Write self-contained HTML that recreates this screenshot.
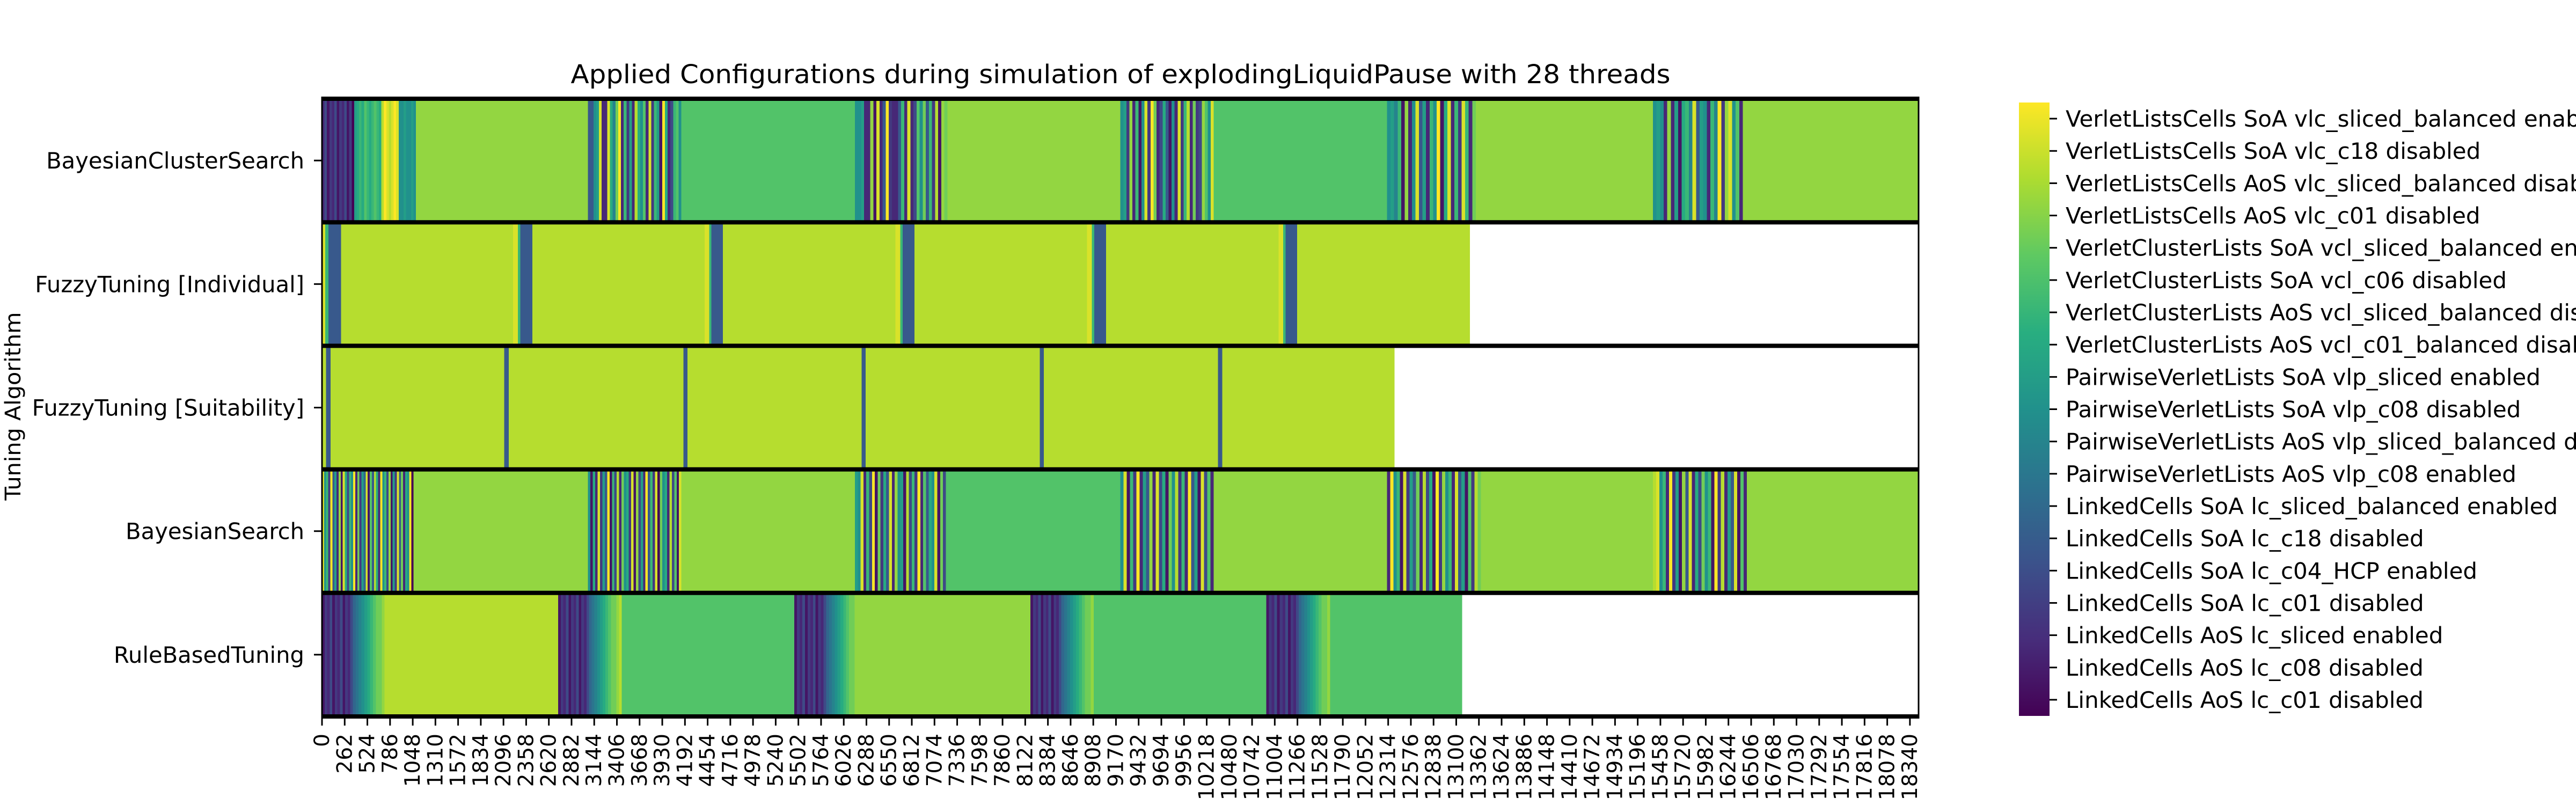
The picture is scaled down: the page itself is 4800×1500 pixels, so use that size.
<!DOCTYPE html>
<html><head><meta charset="utf-8"><style>
html,body{margin:0;padding:0;background:#fff;width:4800px;height:1500px;overflow:hidden}
svg{display:block;font-family:"DejaVu Sans","Liberation Sans",sans-serif}
</style></head><body>
<svg id="chart" xmlns="http://www.w3.org/2000/svg" width="4800" height="1500" viewBox="0 0 4800 1500">
<text x="2088" y="155" font-size="48" text-anchor="middle" textLength="2049" lengthAdjust="spacingAndGlyphs">Applied Configurations during simulation of explodingLiquidPause with 28 threads</text>
<text transform="translate(38,757) rotate(-90)" font-size="40" text-anchor="middle" textLength="351" lengthAdjust="spacingAndGlyphs">Tuning Algorithm</text>
<g id="plot"></g>
<g id="cbar"></g>
</svg>
<script>
const algorithms = ["BayesianClusterSearch","FuzzyTuning [Individual]","FuzzyTuning [Suitability]","BayesianSearch","RuleBasedTuning"];
const configLabels = ["LinkedCells AoS lc_c01 disabled","LinkedCells AoS lc_c08 disabled","LinkedCells AoS lc_sliced enabled","LinkedCells SoA lc_c01 disabled","LinkedCells SoA lc_c04_HCP enabled","LinkedCells SoA lc_c18 disabled","LinkedCells SoA lc_sliced_balanced enabled","PairwiseVerletLists AoS vlp_c08 enabled","PairwiseVerletLists AoS vlp_sliced_balanced disabled","PairwiseVerletLists SoA vlp_c08 disabled","PairwiseVerletLists SoA vlp_sliced enabled","VerletClusterLists AoS vcl_c01_balanced disabled","VerletClusterLists AoS vcl_sliced_balanced disabled","VerletClusterLists SoA vcl_c06 disabled","VerletClusterLists SoA vcl_sliced_balanced enabled","VerletListsCells AoS vlc_c01 disabled","VerletListsCells AoS vlc_sliced_balanced disabled","VerletListsCells SoA vlc_c18 disabled","VerletListsCells SoA vlc_sliced_balanced enabled"];
const xTickStep = 262;
const xTickCount = 71;
const xMax = 18440;
// segments: [start, end, config index or sequence string (0-9,a-i) splitting range equally]
const rowBayesianCluster = [[0,1085,"2413241324130abcbdcbcdcbgihghih99a99a9"],[1085,3072,15],[3072,4151,"559ah22hb8ei2c3a2gb9d2h3ca1ib24cd9"],[4151,6155,13],[6155,7223,"99a22f1h25i3225c2h24d9e5c3g1fe"],[7223,9221,15],[9221,10300,"9a3f2c19h3ie24b5192h3cg2e34fd9h"],[10300,12300,13],[12300,13326,"9a8c1f29h5a2c9i1bh2c3hc2e"],[13326,15371,15],[15371,16410,"9a92f2a1bc8h5a92c8i3fh9d2"],[16410,18440,15]];
const rowFuzzyIndividual = [[0,220,"hc5555"],[220,2206,16],[2206,2431,"hhc55555"],[2431,4418,16],[4418,4631,"hhc55555"],[4631,6624,16],[6624,6843,"hhc55555"],[6843,8836,16],[8836,9055,"hhc55555"],[9055,11049,16],[11049,11262,"hhc55555"],[11262,13255,16]];
const rowFuzzySuitability = [[0,47,16],[47,100,5],[100,2105,16],[2105,2158,5],[2158,4175,16],[4175,4222,5],[4222,6232,16],[6232,6280,5],[6280,8290,16],[8290,8337,5],[8337,10349,16],[10349,10397,5],[10397,12383,16]];
const rowBayesian = [[0,1056,"h9c3i5a2f1hb4c9i2e3a6h1d5gb2i9c4f1a3h5e2b9i0"],[1056,3072,15],[3072,4151,"91b2h3a5i1c4g2e9b3h1f4a2i5c3h0e9b2g4d1h"],[4151,6155,15],[6155,7205,"a9h2c4i1e3b5h2f9a1g4c3i2d5b9h1e4"],[7205,9221,13],[9221,10300,"9h1c3i2a5f2h4b1e9g3c2i5a1h4d2"],[10300,12300,15],[12300,13385,"2i9c1h3a5e2g4b1i3f9c2h5a1d3ge"],[13385,15371,15],[15371,16457,"gh9c2i3a1f5h2b4e9c1i3g2a5h1d2"],[16457,18440,15]];
const rowRuleBased = [[0,356,"132413241324"],[356,723,"6789abcdeef"],[723,2728,16],[2728,3084,"132413241324"],[3084,3463,"6789abcdeefg"],[3463,5456,13],[5456,5823,"132413241324"],[5823,6185,"6789abcdeef"],[6185,8183,15],[8183,8539,"132413241324"],[8539,8913,"6789abcdeef"],[8913,10907,13],[10907,11280,"132413241324"],[11280,11642,"6789abcdeef"],[11642,13166,13]];
const rowsData = [rowBayesianCluster,rowFuzzyIndividual,rowFuzzySuitability,rowBayesian,rowRuleBased];

const NS="http://www.w3.org/2000/svg";
const L=600,R=3575,T=184,B=1335;
const rowH=(B-T)/algorithms.length;
function xs(v){return L+(v/xMax)*(R-L);}
const vir=["#440154","#472d7b","#3b528b","#2c728e","#21918c","#28ae80","#5ec962","#addc30","#fde725"];
function hex(h){return [1,3,5].map(i=>parseInt(h.substr(i,2),16));}
function viridis(t){t=Math.max(0,Math.min(1,t));const p=t*8,i=Math.min(7,Math.floor(p)),f=p-i;const a=hex(vir[i]),b=hex(vir[i+1]);return "rgb("+a.map((c,k)=>Math.round(c+(b[k]-c)*f)).join(",")+")";}
function cfgColor(i){return viridis(i/(configLabels.length-1));}
function mk(tag,attrs,parent){const e=document.createElementNS(NS,tag);for(const k in attrs)e.setAttribute(k,attrs[k]);parent.appendChild(e);return e;}
const plot=document.getElementById("plot");
function decode(ch){return parseInt(ch,19);}
rowsData.forEach((row,ri)=>{
  const y0=T+ri*rowH;
  row.forEach(seg=>{
    const [s,e,spec]=seg;
    if(typeof spec==="number"){
      const r=mk("rect",{x:xs(s),y:y0,width:xs(e)-xs(s)+0.5,height:rowH,fill:cfgColor(spec),"shape-rendering":"crispEdges"},plot);
      
      
    }else{
      const n=spec.length,w=(e-s)/n;
      for(let k=0;k<n;k++){
        const a=s+k*w,b=a+w;
        const r=mk("rect",{x:xs(a),y:y0,width:xs(b)-xs(a)+0.5,height:rowH,fill:cfgColor(decode(spec[k])),"shape-rendering":"crispEdges"},plot);
        
        
      }
    }
  });
  const lab=mk("text",{x:L-33,y:y0+rowH/2+15,"font-size":41.7,"text-anchor":"end"},plot);
  lab.textContent=algorithms[ri];
  
  
  const tk=mk("line",{x1:L-15,x2:L,y1:y0+rowH/2,y2:y0+rowH/2,stroke:"#000","stroke-width":3},plot);
  
  
});
const fr=mk("rect",{x:L,y:T,width:R-L,height:B-T,fill:"none",stroke:"#000","stroke-width":3},plot);


for(let i=0;i<=algorithms.length;i++){
  const yy=T+i*rowH;
  const ln=mk("line",{x1:L-1.5,x2:R+1.5,y1:yy,y2:yy,stroke:"#000","stroke-width":8},plot);
  
  
}
for(let i=0;i<xTickCount;i++){
  const v=i*xTickStep,x=xs(v);
  const t=mk("line",{x1:x,x2:x,y1:B+3,y2:B+17,stroke:"#000","stroke-width":3},plot);
  
  
  const tx=mk("text",{transform:"translate("+(x+13)+","+(B+32)+") rotate(-90)","font-size":39,"text-anchor":"end"},plot);
  tx.textContent=String(v);
  
  
}
const cb=document.getElementById("cbar");
const CX=3762,CW=57,CT=191,CB=1334;
const defs=mk("defs",{},cb);
const lg=mk("linearGradient",{id:"vg",x1:0,y1:1,x2:0,y2:0},defs);
vir.forEach((c,i)=>mk("stop",{offset:i/8,"stop-color":c},lg));
const cr=mk("rect",{x:CX,y:CT,width:CW,height:CB-CT,fill:"url(#vg)"},cb);


const nC=configLabels.length,step=(CB-CT)/nC;
configLabels.forEach((lbl,i)=>{
  const y=CB-(i+0.5)*step;
  const t=mk("line",{x1:CX+CW,x2:CX+CW+14,y1:y,y2:y,stroke:"#000","stroke-width":3},cb);
  
  
  const tx=mk("text",{x:CX+CW+30,y:y+15,"font-size":42},cb);
  tx.textContent=lbl;
  
  
});
</script>
</body></html>
